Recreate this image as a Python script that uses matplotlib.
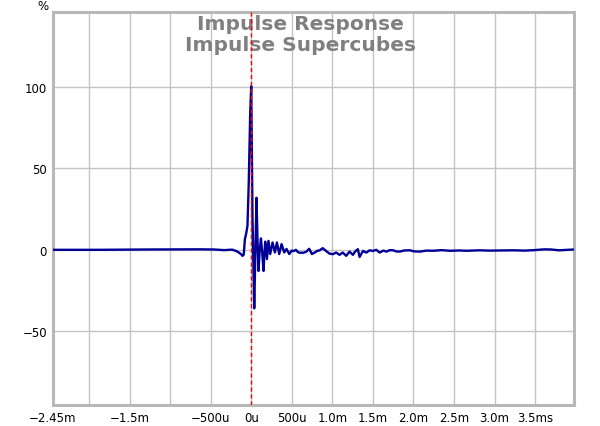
import numpy as np
import matplotlib
matplotlib.use("Agg")
import matplotlib.pyplot as plt

# impulse response (time in ms, amplitude in %)
time_ms = [-2.45, -1.874, -1.258, -0.641, -0.456, -0.333, -0.234, -0.173,
           -0.127, -0.107, -0.092, -0.078, -0.062, -0.046, -0.031, -0.012,
           0.0, 0.016, 0.037, 0.052, 0.065, 0.078, 0.090, 0.105, 0.120,
           0.136, 0.152, 0.163, 0.173, 0.194, 0.213, 0.234, 0.263, 0.292,
           0.317, 0.345, 0.374, 0.407, 0.435, 0.469, 0.499, 0.524, 0.551,
           0.580, 0.610, 0.641, 0.678, 0.715, 0.748, 0.789, 0.818, 0.838,
           0.882, 0.922, 0.964, 1.006, 1.047, 1.089, 1.129, 1.171, 1.212,
           1.254, 1.282, 1.315, 1.336, 1.378, 1.419, 1.461, 1.502, 1.541,
           1.584, 1.628, 1.667, 1.708, 1.751, 1.788, 1.834, 1.887, 1.957,
           2.010, 2.081, 2.158, 2.247, 2.343, 2.454, 2.565, 2.661, 2.811,
           2.935, 3.074, 3.243, 3.366, 3.488, 3.613, 3.695, 3.798, 3.903,
           3.983]
amplitude = [0.0, 0.0, 0.2, 0.3, 0.2, -0.2, 0.1, -1.0,
             -2.6, -3.7, -3.0, 6.6, 10.0, 14.8, 40.0, 85.0,
             100.5, 20.0, -36.0, 0.0, 32.0, 5.0, -13.0, 0.0, 7.0,
             -2.0, -13.0, -2.0, 5.0, -5.7, 5.5, -2.6, 4.5, -1.6,
             4.5, -2.6, 3.5, -1.6, 0.5, -2.6, -0.5, -0.8, 0.0,
             -1.6, -1.8, -1.8, -1.2, 0.6, -2.6, -1.5, -0.5, -0.5,
             1.0, -0.7, -2.3, -2.7, -1.7, -3.1, -1.7, -3.7, -1.1,
             -3.1, -1.0, 0.4, -4.4, -0.7, -1.7, -0.3, -0.7, 0.0,
             -1.7, -0.5, -1.1, -0.2, -0.3, -1.0, -1.1, -0.4, -0.3,
             -1.0, -1.1, -0.5, -0.6, -0.2, -0.6, -0.4, -0.6, -0.3,
             -0.5, -0.4, -0.3, -0.5, -0.2, 0.3, 0.2, -0.3, 0.0,
             0.2]

xticks = [-2.45, -2.0, -1.5, -1.0, -0.5, 0.0, 0.5, 1.0, 1.5, 2.0, 2.5, 3.0, 3.5]
xlabels = ["\u22122.45m", "", "\u22121.5m", "", "\u2212500u", "0u", "500u",
           "1.0m", "1.5m", "2.0m", "2.5m", "3.0m", "3.5ms"]
yticks = [-50, 0, 50, 100]
ylabels = ["\u221250", "0", "50", "100"]

fig = plt.figure(figsize=(6, 4.27), dpi=100)
ax = fig.add_axes([0.0875, 0.0492, 0.8692, 0.9196])

ax.plot(time_ms, amplitude, color="#000096", lw=1.7, zorder=3)
ax.axvline(0, color="red", lw=1, dashes=(3, 2), zorder=4)

ax.set_xlim(-2.45, 3.98)
ax.set_ylim(-95.4, 146)
ax.set_xticks(xticks)
ax.set_xticklabels(xlabels)
ax.set_yticks(yticks)
ax.set_yticklabels(ylabels)
ax.tick_params(length=0, labelsize=8.5, colors="black")
ax.tick_params(axis="x", pad=4)
ax.tick_params(axis="y", pad=4)
ax.grid(True, color="#c4c4c4", lw=1)
ax.set_axisbelow(True)
for s in ax.spines.values():
    s.set_color("#b8b8b8")
    s.set_linewidth(2.2)

ax.text(0.475, 0.995, "Impulse Response\nImpulse Supercubes", transform=ax.transAxes,
        ha="center", va="top", fontsize=14.5, fontweight="bold", color="#808080",
        linespacing=1.1)
fig.text(43 / 600, 1 - 6 / 427, "%", ha="center", va="center", fontsize=8.5)

fig.savefig("out.png", dpi=100)
